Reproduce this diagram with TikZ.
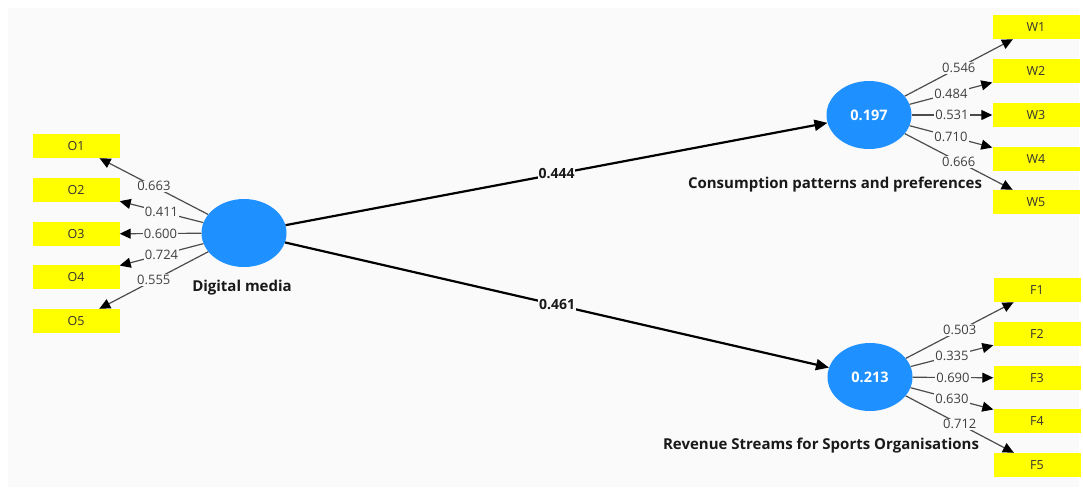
\documentclass[tikz,border=0pt]{standalone}
\usepackage{fontspec}
\setmainfont{Open Sans}
\usetikzlibrary{arrows.meta,shapes.geometric}
\definecolor{lvblue}{RGB}{30,144,255}
\definecolor{panel}{RGB}{250,250,250}
\definecolor{ind}{RGB}{255,255,0}
\begin{document}
\begin{tikzpicture}[x=1pt,y=-1pt,
  lv/.style={ellipse, fill=lvblue, minimum width=85pt, minimum height=68pt, inner sep=0pt, text=white, font=\fontsize{14.5}{16}\selectfont\bfseries},
  mv/.style={rectangle, fill=ind, minimum width=87pt, minimum height=24pt, inner sep=0pt, font=\fontsize{12.5}{14}\selectfont, text=black!80},
  load/.style={draw=black!70, line width=1.2pt, -{Triangle[length=11pt,width=10pt,color=black]}},
  struct/.style={draw=black, line width=2.2pt, -{Triangle[length=13pt,width=11pt]}},
  lbl/.style={fill=panel, inner sep=1pt, font=\fontsize{13}{15}\selectfont, text=black!75},
  slbl/.style={fill=panel, inner sep=1pt, font=\fontsize{14}{16}\selectfont\bfseries, text=black!90},
  lvname/.style={font=\fontsize{15}{17}\selectfont\bfseries, text=black!90, inner sep=0pt}]
\useasboundingbox (0,0) rectangle (1083,488);
\fill[white] (0,0) rectangle (1083,488);
\fill[panel] (8,8) rectangle (1079,487);
% latent variables
\node[lv] (dm) at (244,233) {};
\node[lv] (cp) at (869,115) {0.197};
\node[lv] (rs) at (870,377) {0.213};
\node[lvname] (dmn) at (242,288) {Digital media};
\node[lvname] (cpn) at (835,185) {Consumption patterns and preferences};
\node[lvname] (rsn) at (821,446) {Revenue Streams for Sports Organisations};
% indicators
\node[mv] (o1) at (76,146) {O1};
\node[mv] (o2) at (76,190) {O2};
\node[mv] (o3) at (76,234) {O3};
\node[mv] (o4) at (76,277) {O4};
\node[mv] (o5) at (76,321) {O5};
\node[mv] (w1) at (1036,27) {W1};
\node[mv] (w2) at (1036,71) {W2};
\node[mv] (w3) at (1036,115) {W3};
\node[mv] (w4) at (1036,159) {W4};
\node[mv] (w5) at (1036,202) {W5};
\node[mv] (f1) at (1037,290) {F1};
\node[mv] (f2) at (1037,334) {F2};
\node[mv] (f3) at (1037,378) {F3};
\node[mv] (f4) at (1037,421) {F4};
\node[mv] (f5) at (1037,465) {F5};
% structural paths
\draw[struct] (dm) -- node[slbl]{0.444} (cp);
\draw[struct] (dm) -- node[slbl]{0.461} (rs);
% loadings
\draw[load] (dm) -- node[lbl]{0.663} (o1);
\draw[load] (dm) -- node[lbl]{0.411} (o2);
\draw[load] (dm) -- node[lbl]{0.600} (o3);
\draw[load] (dm) -- node[lbl]{0.724} (o4);
\draw[load] (dm) -- node[lbl]{0.555} (o5);
\draw[load] (cp) -- node[lbl]{0.546} (w1);
\draw[load] (cp) -- node[lbl]{0.484} (w2);
\draw[load] (cp) -- node[lbl]{0.531} (w3);
\draw[load] (cp) -- node[lbl]{0.710} (w4);
\draw[load] (cp) -- node[lbl]{0.666} (w5);
\draw[load] (rs) -- node[lbl]{0.503} (f1);
\draw[load] (rs) -- node[lbl]{0.335} (f2);
\draw[load] (rs) -- node[lbl]{0.690} (f3);
\draw[load] (rs) -- node[lbl]{0.630} (f4);
\draw[load] (rs) -- node[lbl]{0.712} (f5);
\end{tikzpicture}
\end{document}
